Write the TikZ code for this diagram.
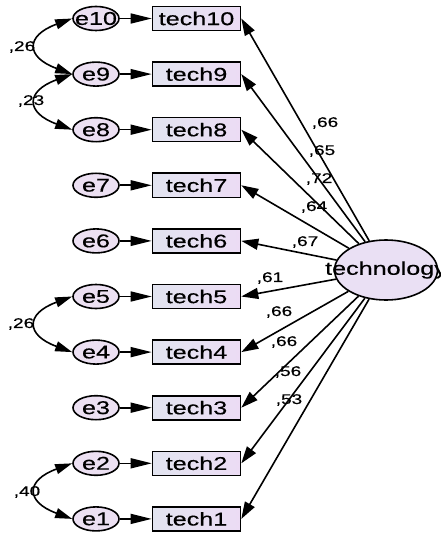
\documentclass[tikz,border=0pt]{standalone}
\usepackage{fontspec}
\setmainfont{Liberation Sans}[FakeStretch=1.36,FakeBold=0.4]
\usetikzlibrary{shapes.geometric,arrows.meta}
\definecolor{efill}{RGB}{236,224,242}
\definecolor{boxl}{RGB}{226,228,240}
\definecolor{boxr}{RGB}{236,220,244}
\definecolor{latfill}{RGB}{234,224,244}
\begin{document}
\begin{tikzpicture}[x=1bp,y=-1bp,
 err/.style={ellipse,draw,line width=1.6bp,fill=efill,minimum width=46bp,minimum height=24bp,inner sep=0pt},
 obs/.style={rectangle,draw,line width=1.6bp,left color=boxl,right color=boxr,minimum width=88bp,minimum height=24bp,inner sep=0pt,font=\fontsize{18.5bp}{20bp}\selectfont},
 lat/.style={ellipse,draw,line width=1.6bp,fill=latfill,minimum width=103bp,minimum height=60bp,inner sep=0pt},
 txt/.style={inner sep=0pt,font=\fontsize{18.5bp}{20bp}\selectfont},
 earr/.style={line width=1.6bp,-{Triangle[length=21bp,width=10bp]}},
 arr/.style={line width=1.6bp,-{Triangle[length=17bp,width=11bp]}},
 cov/.style={line width=1.6bp,{Triangle[length=17bp,width=10bp]}-{Triangle[length=17bp,width=10bp]}},
 lbl/.style={font=\fontsize{14bp}{16bp}\selectfont,inner sep=0pt}]
\useasboundingbox (0,0) rectangle (441,534);
\fill[white] (0,0) rectangle (441,534);
\node[lat] (tech) at (386,270) {};
\node[txt] (techtxt) at (386,270) {technology};
\foreach \i/\y in {10/18.5,9/74.1,8/129.7,7/185.3,6/240.9,5/296.5,4/352.1,3/407.7,2/463.3,1/518.9}{
  \node[err] (e\i) at (96,\y) {};
  \node[txt] (et\i) at (96,\y) {e\i};
  \node[obs] (t\i) at (196.5,\y) {tech\i};
  \draw[earr] (e\i) -- (t\i);
  \draw[arr] (tech) -- (t\i.east);
}
\draw[cov] (e10.west) to[out=200,in=160,looseness=2.3] (e9.west);
\draw[cov] (e9.west) to[out=200,in=160,looseness=2.3] (e8.west);
\draw[cov] (e5.west) to[out=200,in=160,looseness=2.3] (e4.west);
\draw[cov] (e2.west) to[out=200,in=160,looseness=2.3] (e1.west);
\node[lbl] (c1) at (22,47) {,26};
\node[lbl] (c2) at (31,101) {,23};
\node[lbl] (c3) at (21,324) {,26};
\node[lbl] (c4) at (27,492) {,40};
\node[lbl] (l10) at (325,123) {,66};
\node[lbl] (l9) at (322,151) {,65};
\node[lbl] (l8) at (319,179) {,72};
\node[lbl] (l7) at (314,207) {,64};
\node[lbl] (l6) at (305,242) {,67};
\node[lbl] (l5) at (270,278) {,61};
\node[lbl] (l4) at (279,312) {,66};
\node[lbl] (l3) at (284,342) {,66};
\node[lbl] (l2) at (288,372) {,56};
\node[lbl] (l1) at (289,400) {,53};
\end{tikzpicture}
\end{document}
